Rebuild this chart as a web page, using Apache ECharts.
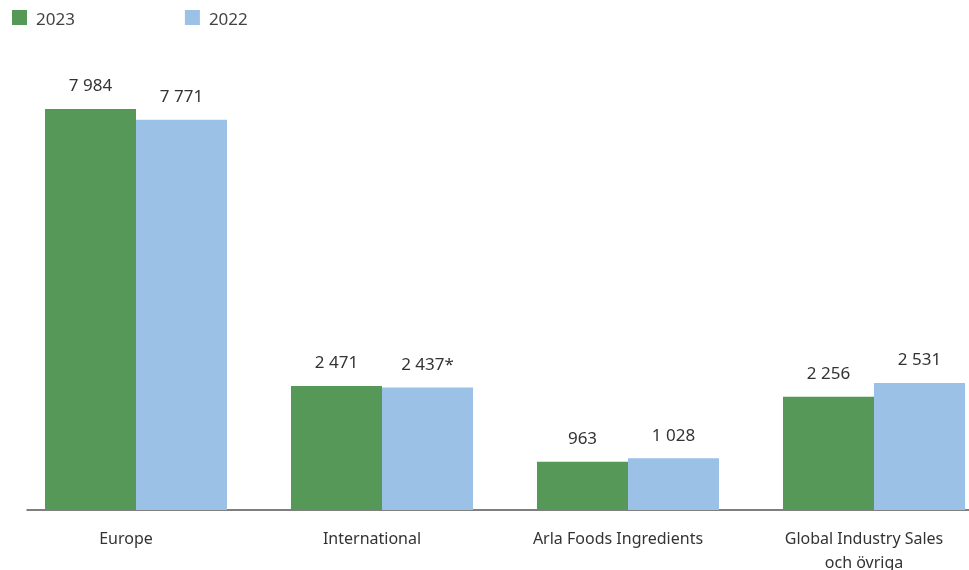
<!DOCTYPE html>
<html><head><meta charset="utf-8">
<script src="https://cdn.jsdelivr.net/npm/echarts@6/dist/echarts.min.js"></script>
<style>html,body{margin:0;padding:0;background:#fff}#c{width:969px;height:570px}</style>
</head><body><div id="c"></div>
<script>
const categories = ['Europe', 'International', 'Arla Foods Ingredients', 'Global Industry Sales\noch övriga'];
const values2023 = [7984, 2471, 963, 2256];
const values2022 = [7771, 2437, 1028, 2531];
const notes2022 = ['', '*', '', ''];
const seriesNames = ['2023', '2022'];

const fmt = v => String(v).replace(/\B(?=(\d{3})+(?!\d))/g, ' ');
const font = '"Noto Sans", "Open Sans", sans-serif';
const chart = echarts.init(document.getElementById('c'));
chart.setOption({
  animation: false,
  textStyle: { fontFamily: font },
  legend: {
    left: 12, top: 10, padding: 0, itemWidth: 15, itemHeight: 15, itemGap: 110,
    icon: 'rect',
    formatter: '{t|{name}}',
    textStyle: { fontSize: 17, color: '#444', fontFamily: font,
      rich: { t: { fontSize: 17, color: '#444', fontFamily: font, padding: [6, 0, 0, 4] } } },
    data: seriesNames
  },
  grid: [
    { left: 13, right: -28, top: 108.2, bottom: 60, outerBoundsMode: 'none', containLabel: false },
    { left: 27, right: 0, top: 108.2, bottom: 60, outerBoundsMode: 'none', containLabel: false }
  ],
  xAxis: [
    { type: 'category', gridIndex: 0, data: categories,
      axisLine: { show: false }, axisTick: { show: false },
      axisLabel: { fontSize: 16, color: '#333', margin: 17, lineHeight: 24, fontFamily: font,
        padding: [0, 20, 0, 0] } },
    { type: 'category', gridIndex: 1, data: categories,
      axisLine: { show: true, lineStyle: { color: '#555', width: 1.5 } },
      axisTick: { show: false }, axisLabel: { show: false } }
  ],
  yAxis: [
    { type: 'value', gridIndex: 0, min: 0, max: 8000, show: false, splitLine: { show: false } },
    { type: 'value', gridIndex: 1, min: 0, max: 8000, show: false, splitLine: { show: false } }
  ],
  series: [
    { name: seriesNames[0], type: 'bar', data: values2023, barGap: '0%', barCategoryGap: '26%',
      itemStyle: { color: '#559857' },
      label: { show: true, position: 'top', distance: 14, fontSize: 17, color: '#333', fontFamily: font,
        formatter: p => fmt(p.value) } },
    { name: seriesNames[1], type: 'bar', data: values2022, barGap: '0%', barCategoryGap: '26%',
      itemStyle: { color: '#9bc1e6' },
      label: { show: true, position: 'top', distance: 14, fontSize: 17, color: '#333', fontFamily: font,
        formatter: p => fmt(p.value) + notes2022[p.dataIndex] } }
  ]
});
</script></body></html>
